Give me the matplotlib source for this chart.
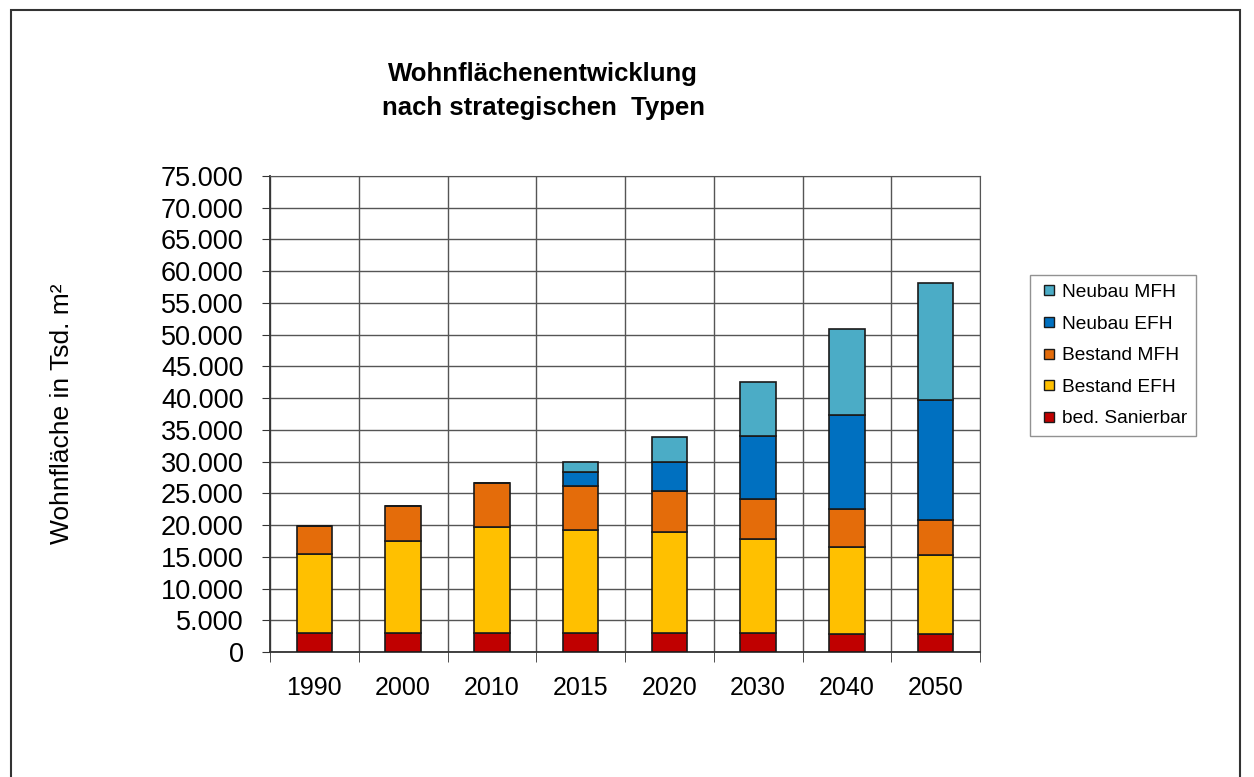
import numpy as np
import matplotlib
matplotlib.use("Agg")
import matplotlib.pyplot as plt
from matplotlib.patches import Rectangle
from matplotlib.lines import Line2D
from matplotlib.ticker import FuncFormatter, MultipleLocator

plt.rcParams['font.family'] = ['Liberation Sans', 'DejaVu Sans']

# Data (Tsd. m²)
years = ["1990", "2000", "2010", "2015", "2020", "2030", "2040", "2050"]
sanierbar = [3000, 3000, 3000, 3000, 2950, 2950, 2900, 2900]
bestand_efh = [12450, 14550, 16650, 16250, 15900, 14900, 13650, 12450]
bestand_mfh = [4350, 5400, 6950, 6830, 6570, 6260, 5950, 5400]
neubau_efh = [0, 0, 0, 2260, 4530, 9870, 14800, 18930]
neubau_mfh = [0, 0, 0, 1640, 3930, 8500, 13600, 18400]

series = [
    ("bed. Sanierbar", sanierbar, "#C00000"),
    ("Bestand EFH", bestand_efh, "#FFC000"),
    ("Bestand MFH", bestand_mfh, "#E46C0A"),
    ("Neubau EFH", neubau_efh, "#0070C0"),
    ("Neubau MFH", neubau_mfh, "#4BACC6"),
]

fig = plt.figure(figsize=(12.54, 7.77), dpi=100)
W, H = 1254, 777
ax = fig.add_axes([270 / W, 1 - 652 / H, 710 / W, 476 / H])

x = np.arange(len(years))
bottom = np.zeros(len(years))
for name, vals, col in series:
    vals = np.array(vals, dtype=float)
    ax.bar(x, vals, width=0.4, bottom=bottom, color=col,
           edgecolor="#1a1a1a", linewidth=1.2, label=name, zorder=3)
    bottom += vals

ax.set_xlim(-0.5, len(years) - 0.5)
ax.set_ylim(0, 75000)
ax.yaxis.set_major_locator(MultipleLocator(5000))
ax.yaxis.set_major_formatter(FuncFormatter(lambda v, p: f"{int(v):,}".replace(",", ".")))
ax.set_xticks(x)
ax.set_xticklabels(years)
ax.set_xticks(np.arange(len(years) + 1) - 0.5, minor=True)
ax.tick_params(axis="x", which="major", length=0, pad=17, labelsize=18)
ax.tick_params(axis="x", which="minor", length=7, direction="out", color="#333333")
ax.tick_params(axis="y", length=6, direction="out", labelsize=19.5, pad=13, color="#333333")

ax.grid(True, axis="y", color="#555555", linewidth=1.0, zorder=0)
ax.grid(True, axis="x", which="minor", color="#555555", linewidth=1.0, zorder=0)
for s in ["top", "right"]:
    ax.spines[s].set_color("#555555")
for s in ["left", "bottom"]:
    ax.spines[s].set_color("#333333")
    ax.spines[s].set_linewidth(1.3)

ax.set_ylabel("Wohnfläche in Tsd. m²", fontsize=19)
ax.yaxis.set_label_coords(-196 / 710, 0.5)

fig.text(543 / W, 1 - 91 / H, "Wohnflächenentwicklung\nnach strategischen  Typen",
         ha="center", va="center", fontsize=18.5, fontweight="bold", linespacing=1.5)

# legend, top entry first
handles = [Line2D([], [], linestyle="none", marker="s", markersize=6.5,
                  markerfacecolor=col, markeredgecolor="#1a1a1a", markeredgewidth=1.0)
           for _, _, col in series][::-1]
labels = [name for name, _, _ in series][::-1]
leg = fig.legend(handles, labels,
                 loc="upper left", bbox_to_anchor=(1030 / W, 1 - 275 / H),
                 fontsize=13.8, frameon=True, fancybox=False, edgecolor="#777777",
                 handlelength=1.1, handletextpad=0.1,
                 labelspacing=0.74, borderpad=0.45, borderaxespad=0)
leg.get_frame().set_linewidth(1.0)

# outer frame
fig.patches.append(Rectangle((11 / W, -0.05), (1240 - 11) / W, 1.05 - 10 / H,
                             transform=fig.transFigure, fill=False,
                             edgecolor="#333333", linewidth=1.5))

fig.savefig("out.png", dpi=100)
